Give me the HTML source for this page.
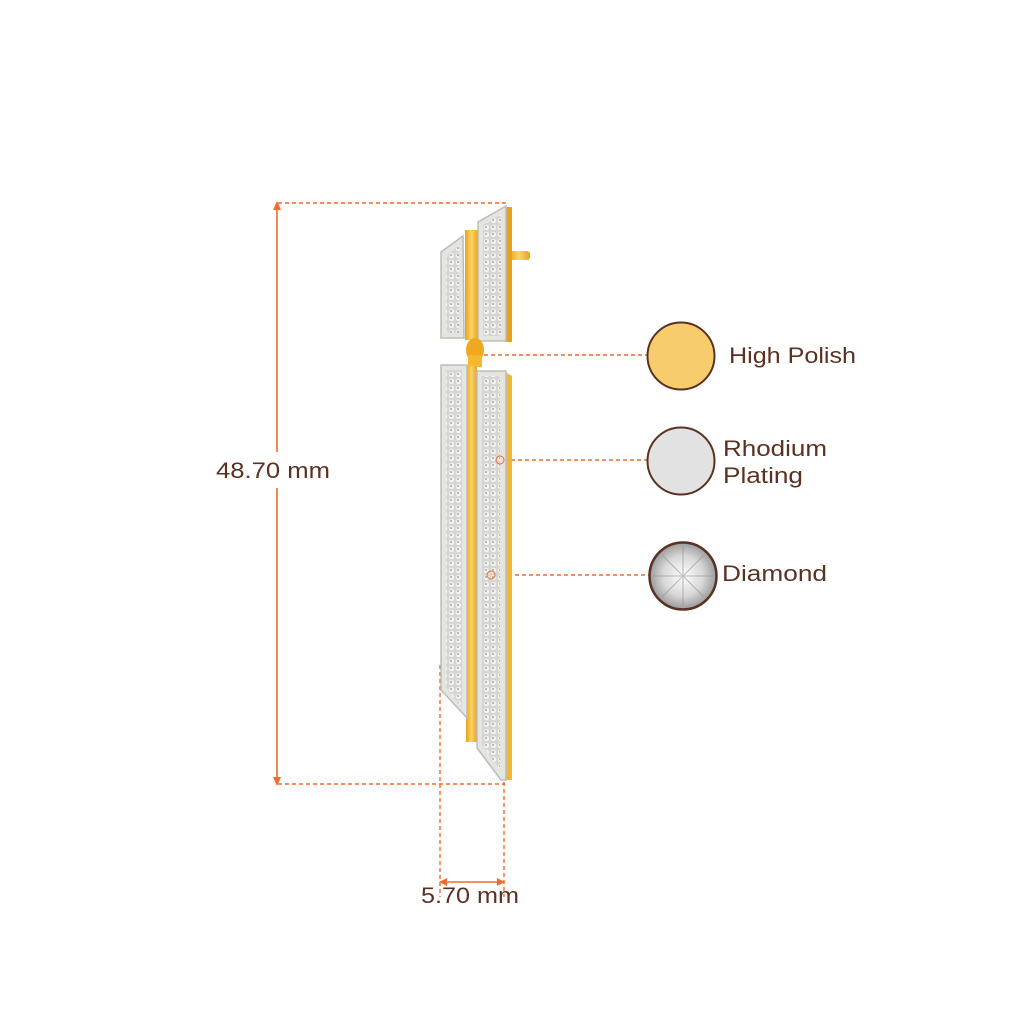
<!DOCTYPE html>
<html><head><meta charset="utf-8"><style>
html,body{margin:0;padding:0;background:#fff;}
svg{display:block;}
text{font-family:"Liberation Sans",sans-serif;fill:#5b3222;}
</style></head><body>
<svg width="1024" height="1024" viewBox="0 0 1024 1024" xmlns="http://www.w3.org/2000/svg">
<defs>
<pattern id="pave" width="7" height="7" patternUnits="userSpaceOnUse">
<rect width="7" height="7" fill="#d6d6d2"/>
<circle cx="3.5" cy="3.5" r="2.6" fill="#f2f2f0"/>
<circle cx="3" cy="3" r="1" fill="#a9a9a6"/>
</pattern>
<linearGradient id="gold" x1="0" x2="1">
<stop offset="0" stop-color="#e9a21c"/><stop offset="0.5" stop-color="#fbd466"/><stop offset="1" stop-color="#e9a21c"/>
</linearGradient>
<radialGradient id="dia" cx="0.5" cy="0.5" r="0.5">
<stop offset="0" stop-color="#ffffff"/><stop offset="0.6" stop-color="#d8d8d8"/><stop offset="1" stop-color="#9a9a9a"/>
</radialGradient>
</defs>

<g stroke="#f36a2c" stroke-width="1.4" fill="none" stroke-dasharray="4,3">
<line x1="278" y1="203" x2="508" y2="203"/>
<line x1="278" y1="784" x2="505" y2="784"/>
<line x1="440" y1="665" x2="440" y2="897"/>
<line x1="504" y1="775" x2="504" y2="897"/>
<line x1="484" y1="355" x2="647" y2="355"/>
<line x1="504" y1="460" x2="647" y2="460"/>
<line x1="494" y1="575" x2="649" y2="575"/>
</g>
<g stroke="#f36a2c" stroke-width="1.6" fill="none">
<line x1="277" y1="208" x2="277" y2="452"/>
<line x1="277" y1="488" x2="277" y2="779"/>
<line x1="445" y1="882" x2="499" y2="882"/>
</g>
<g fill="#f36a2c">
<polygon points="277,201 273,210 281,210"/>
<polygon points="277,786 273,777 281,777"/>
<polygon points="439,882 447,878 447,886"/>
<polygon points="505,882 497,878 497,886"/>
</g>
<text x="216" y="478" font-size="22" textLength="114" lengthAdjust="spacingAndGlyphs">48.70 mm</text>
<text x="421" y="903" font-size="22" textLength="98" lengthAdjust="spacingAndGlyphs">5.70 mm</text>

<rect x="508" y="251" width="22" height="9" rx="3" fill="url(#gold)"/>
<rect x="465" y="230" width="13" height="110" fill="url(#gold)"/>
<polygon points="505,207 512,207 512,342 505,342" fill="#e9a21c"/>
<polygon points="441,252 463,236 464,338 441,338" fill="#e4e4e0" stroke="#bdbdb5" stroke-width="1.5"/>
<polygon points="446,256 459,246 459,333 446,333" fill="url(#pave)"/>
<polygon points="478,222 506,206 506,341 478,341" fill="#e4e4e0" stroke="#bdbdb5" stroke-width="1.5"/>
<polygon points="483,225 501,214 501,336 483,336" fill="url(#pave)"/>
<ellipse cx="475" cy="350" rx="9" ry="12" fill="#f0a81e"/>
<rect x="468" y="355" width="14" height="12" fill="#f5b82e"/>

<rect x="466" y="366" width="11" height="376" fill="url(#gold)"/>
<polygon points="505,372 512,376 512,780 505,780" fill="#f2b638"/>
<polygon points="441,365 467,365 467,718 441,690" fill="#e4e4e0" stroke="#bdbdb5" stroke-width="1.5"/>
<polygon points="446,370 462,370 462,708 446,688" fill="url(#pave)"/>
<polygon points="477,371 506,371 506,780 501,780 477,748" fill="#e4e4e0" stroke="#bdbdb5" stroke-width="1.5"/>
<polygon points="482,376 500,376 500,770 482,745" fill="url(#pave)"/>
<circle cx="500" cy="460" r="4" fill="none" stroke="#f36a2c" stroke-width="1"/>
<circle cx="491" cy="575" r="4" fill="none" stroke="#f36a2c" stroke-width="1"/>

<circle cx="681" cy="356" r="33.5" fill="#f6cc6c" stroke="#5b3222" stroke-width="2"/>
<circle cx="681" cy="461" r="33.5" fill="#e2e2e2" stroke="#5b3222" stroke-width="2"/>
<circle cx="683" cy="576" r="33.5" fill="url(#dia)" stroke="#5b3222" stroke-width="2.5"/>
<g stroke="#8f8f8f" stroke-width="1" opacity="0.6">
<line x1="683" y1="546" x2="683" y2="606"/><line x1="653" y1="576" x2="713" y2="576"/>
<line x1="662" y1="555" x2="704" y2="597"/><line x1="704" y1="555" x2="662" y2="597"/>
</g>
<text x="729" y="363" font-size="22" textLength="127" lengthAdjust="spacingAndGlyphs">High Polish</text>
<text x="723" y="456" font-size="22" textLength="104" lengthAdjust="spacingAndGlyphs">Rhodium</text>
<text x="723" y="483" font-size="22" textLength="80" lengthAdjust="spacingAndGlyphs">Plating</text>
<text x="722" y="581" font-size="22" textLength="105" lengthAdjust="spacingAndGlyphs">Diamond</text>
</svg>
</body></html>
